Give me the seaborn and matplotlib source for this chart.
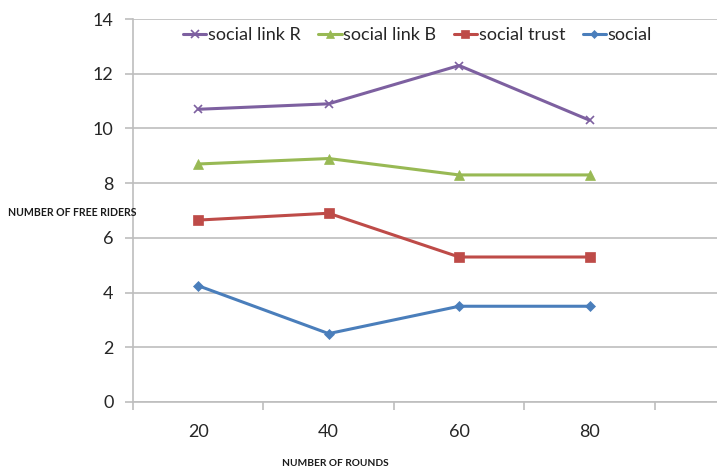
import matplotlib
matplotlib.use("Agg")
import matplotlib.pyplot as plt
import seaborn as sns
import pandas as pd

# Number of free riders per round count, for each mechanism
rounds = ["20", "40", "60", "80"]
series_names = ["social link R", "social link B", "social trust", "social"]
link_r = [10.7, 10.9, 12.3, 10.3]
link_b = [8.7, 8.9, 8.3, 8.3]
trust = [6.65, 6.9, 5.3, 5.3]
social = [4.25, 2.5, 3.5, 3.5]
y_ticks = [0, 2, 4, 6, 8, 10, 12, 14]

colors = ["#7D60A0", "#98B954", "#BE4B48", "#4A7EBB"]
markers = ["x", "^", "s", "D"]
msizes = [6, 7, 7, 5]

sns.set_theme(style="white")
plt.rcParams["font.family"] = ["Lato", "DejaVu Sans"]

fig = plt.figure(figsize=(7.17, 4.71), dpi=100)
W, H = 717, 471
ax = fig.add_axes([133 / W, 1 - 402 / H, (717 - 133) / W, (402 - 19) / H])

rows = []
for name, vals in zip(series_names, [link_r, link_b, trust, social]):
    for i, v in enumerate(vals):
        rows.append({"pos": i, "round": rounds[i], "value": v, "series": name})
df = pd.DataFrame(rows)

for name, c, m, ms in zip(series_names, colors, markers, msizes):
    sub = df[df["series"] == name]
    sns.lineplot(data=sub, x="pos", y="value", ax=ax, color=c, marker=m,
                 markersize=ms, linewidth=2.2, markeredgecolor=c,
                 markeredgewidth=1.2 if m == "x" else 0.5, label=name,
                 legend=False)

grid_c = "#BEBEBE"
ax.set_xlim(-0.5, (717 - 198) / 130.5)
ax.set_ylim(0, 14)
ax.set_yticks(y_ticks)
ax.set_yticklabels([str(t) for t in y_ticks], fontsize=13)
ax.yaxis.grid(True, color=grid_c, linewidth=1.2)
ax.xaxis.grid(False)

# category labels sit between tick marks placed on the boundaries
ax.set_xticks(range(len(rounds)))
ax.set_xticklabels(rounds, fontsize=13)
ax.set_xticks([-0.5, 0.5, 1.5, 2.5, 3.5], minor=True)
ax.tick_params(axis="x", which="major", length=0, pad=16)
ax.tick_params(axis="x", which="minor", length=6, color=grid_c, width=1.2,
               direction="out", bottom=True)
ax.tick_params(axis="y", length=6, color=grid_c, width=1.2,
               direction="out", left=True, pad=8)
ax.set_xlabel("")
ax.set_ylabel("")

for side in ["top", "right"]:
    ax.spines[side].set_visible(False)
for side in ["left", "bottom"]:
    ax.spines[side].set_color(grid_c)
    ax.spines[side].set_linewidth(1.2)

handles, labels = ax.get_legend_handles_labels()
leg = fig.legend(handles, labels, loc="center left",
                 bbox_to_anchor=(183 / W, 1 - 35 / H), ncol=4, frameon=False,
                 fontsize=13, handlelength=1.3, handletextpad=0.1,
                 columnspacing=0.95, borderaxespad=0, borderpad=0,
                 markerscale=0.85)

fig.text(8 / W, 1 - 213 / H, "NUMBER OF FREE RIDERS", fontsize=7.6,
         fontweight="bold", ha="left", va="center", color="#1a1a1a")
fig.text(335 / W, 1 - 463 / H, "NUMBER OF ROUNDS", fontsize=7.3,
         fontweight="bold", ha="center", va="center", color="#1a1a1a")

fig.savefig("out.png", dpi=100)
